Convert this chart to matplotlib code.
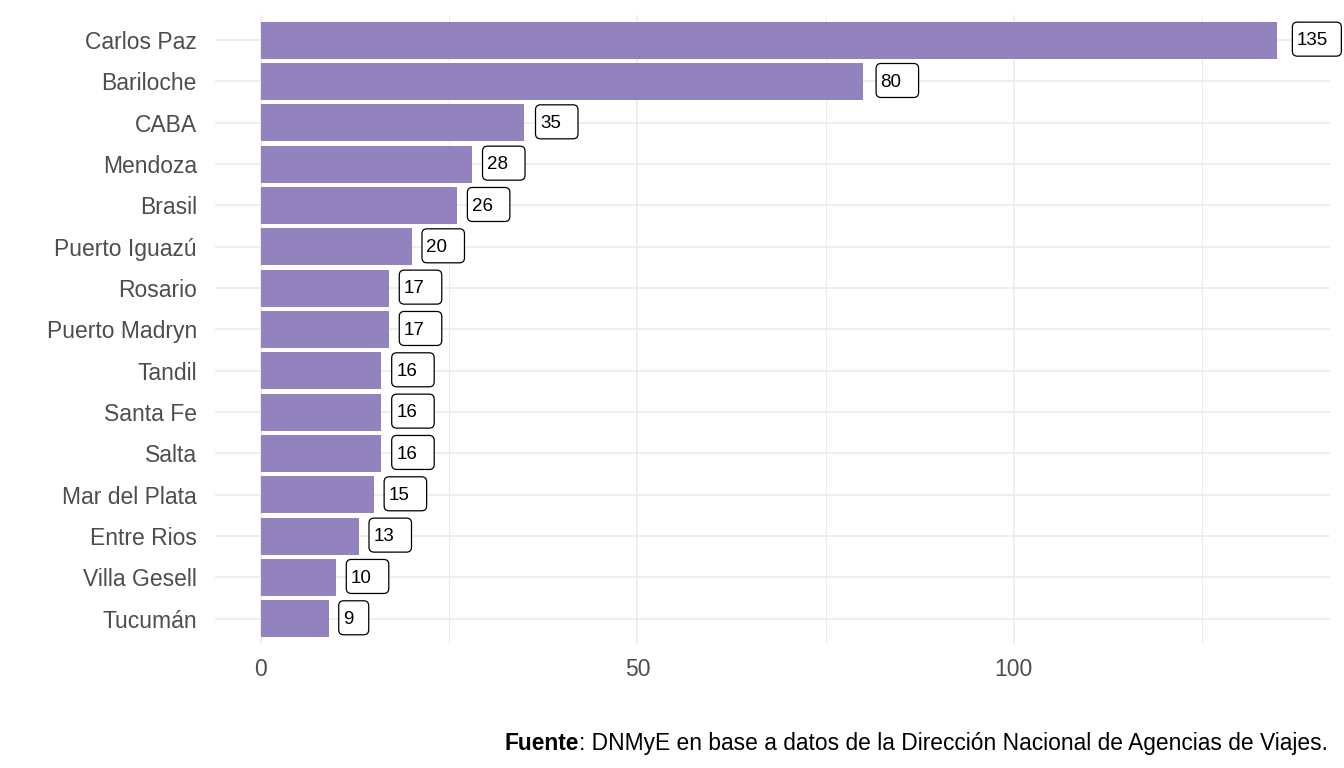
import matplotlib.pyplot as plt
import numpy as np
from matplotlib.patches import FancyBboxPatch
from matplotlib.transforms import IdentityTransform

plt.rcParams['font.family'] = ['Liberation Sans', 'DejaVu Sans']

# --- DATA ---
destinos = ["Carlos Paz", "Bariloche", "CABA", "Mendoza", "Brasil", "Puerto Iguazú",
            "Rosario", "Puerto Madryn", "Tandil", "Santa Fe", "Salta", "Mar del Plata",
            "Entre Rios", "Villa Gesell", "Tucumán"]
valores = [135, 80, 35, 28, 26, 20, 17, 17, 16, 16, 16, 15, 13, 10, 9]
x_ticks = [0, 50, 100]
x_minor = [25, 75, 125]

BAR_COLOR = "#9283be"
GRID = "#ebebeb"
BOX_W = {1: 30, 2: 42.5, 3: 49}  # label box width (px) by number of digits

fig = plt.figure(figsize=(13.44, 7.68), dpi=100)
ax = fig.add_axes([0.16, 0.162, 0.8296, 0.818])

pos = np.arange(len(destinos))[::-1]
ax.barh(pos, valores, height=0.9, color=BAR_COLOR, zorder=2)

ax.set_xlim(-6.1, 142)
ax.set_ylim(-0.6, len(destinos) - 0.4)
ax.set_yticks(pos)
ax.set_yticklabels(destinos)
ax.set_xticks(x_ticks)
ax.set_xticks(x_minor, minor=True)

ax.grid(True, which='major', color=GRID, lw=1.2, zorder=0)
ax.grid(True, which='minor', axis='x', color=GRID, lw=0.7, zorder=0)
ax.set_axisbelow(True)
for s in ax.spines.values():
    s.set_visible(False)
ax.tick_params(which='both', length=0)
ax.tick_params(axis='y', labelsize=16.5, labelcolor='#4d4d4d', pad=13)
ax.tick_params(axis='x', labelsize=16.5, labelcolor='#4d4d4d', pad=10.5)

# value labels: text + rounded box, placed in pixels right of each bar
px2pt = 72 / fig.dpi
for p, v in zip(pos, valores):
    gap = 10 + 0.04 * (v - 9)
    ax.annotate(str(v), (v, p), xytext=((gap + 4.5) * px2pt, -0.5), textcoords='offset points',
                ha='left', va='center', fontsize=13.5, color='black',
                zorder=4, annotation_clip=False)
    xe, yc = ax.transData.transform((v, p))
    h = 34
    box = FancyBboxPatch((xe + gap, yc + 1 - h / 2), BOX_W[len(str(v))], h,
                         boxstyle='round,pad=0,rounding_size=5',
                         fc='white', ec='black', lw=0.9,
                         transform=IdentityTransform(), zorder=3, clip_on=False)
    ax.add_patch(box)

# caption: bold "Fuente" + regular rest, right aligned
fig.canvas.draw()
r = fig.canvas.get_renderer()
rest = fig.text(0.9881, 0.0235, ": DNMyE en base a datos de la Dirección Nacional de Agencias de Viajes.",
                ha='right', va='baseline', fontsize=16.4, color='black')
bb = rest.get_window_extent(renderer=r)
fig.text(bb.x0 / fig.bbox.width, 0.0235, "Fuente", ha='right', va='baseline',
         fontsize=16.4, fontweight='bold', color='black')

fig.savefig("out.png", dpi=100, facecolor='white')
